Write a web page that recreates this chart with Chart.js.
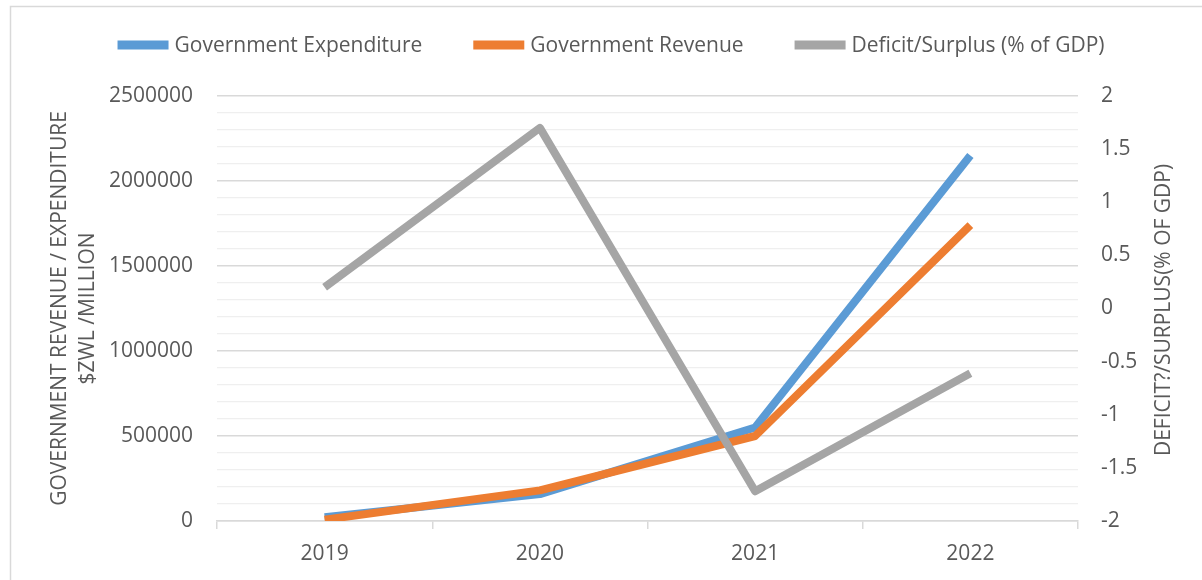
<!DOCTYPE html>
<html>
<head>
<meta charset="utf-8">
<title>Government Revenue, Expenditure and Deficit/Surplus</title>
<script src="https://cdn.jsdelivr.net/npm/chart.js@4/dist/chart.umd.min.js"></script>
<style>
  html, body { margin: 0; padding: 0; background: #ffffff; }
  canvas { display: block; }
</style>
</head>
<body>
<canvas id="chart" width="1202" height="580"></canvas>
<script>
// Fiscal years on the category axis
const years = ['2019', '2020', '2021', '2022'];

// Government expenditure and revenue, $ZWL million
const expenditure = [22000, 158000, 550000, 2150000];
const revenue = [8000, 180000, 500000, 1740000];

// Budget deficit / surplus as a percentage of GDP
const deficitSurplus = [0.2, 1.7, -1.72, -0.61];

// Series names
const seriesNames = ['Government Expenditure', 'Government Revenue', 'Deficit/Surplus (% of GDP)'];

// Axis titles
const leftAxisTitle = ['GOVERNMENT REVENUE / EXPENDITURE', '$ZWL /MILLION'];
const rightAxisTitle = 'DEFICIT?/SURPLUS(% OF GDP)';

const FONT = "'Open Sans', 'Noto Sans', sans-serif";
const TEXT_COLOR = '#595959';
const colors = ['#5B9BD5', '#ED7D31', '#A5A5A5'];

// White background and the thin frame around the chart
const framePlugin = {
  id: 'frame',
  beforeDraw(chart) {
    const ctx = chart.ctx;
    ctx.save();
    ctx.fillStyle = '#ffffff';
    ctx.fillRect(0, 0, chart.width, chart.height);
    ctx.strokeStyle = '#d9d9d9';
    ctx.lineWidth = 1.5;
    ctx.strokeRect(10.5, 6.5, chart.width + 20, chart.height + 20);
    ctx.restore();
  }
};

// Legend row across the top: a short bar in the series colour followed by its name
const legendRowPlugin = {
  id: 'legendRow',
  afterDraw(chart) {
    const ctx = chart.ctx;
    const boxW = 51, boxH = 9, boxGap = 6, itemGap = 51;
    const centerX = 611, centerY = 45;
    ctx.save();
    ctx.font = '21px ' + FONT;
    const items = chart.data.datasets.map(ds => ({
      label: ds.label, color: ds.borderColor, w: ctx.measureText(ds.label).width
    }));
    const total = items.reduce((s, it) => s + boxW + boxGap + it.w, 0) + itemGap * (items.length - 1);
    let x = centerX - total / 2;
    ctx.textBaseline = 'middle';
    ctx.textAlign = 'left';
    items.forEach(it => {
      ctx.fillStyle = it.color;
      ctx.fillRect(x, centerY - boxH / 2, boxW, boxH);
      x += boxW + boxGap;
      ctx.fillStyle = TEXT_COLOR;
      ctx.fillText(it.label, x, centerY + 1);
      x += it.w + itemGap;
    });
    ctx.restore();
  }
};

// Secondary axis title, reading bottom to top beside the right-hand scale
const rightTitlePlugin = {
  id: 'rightTitle',
  afterDraw(chart) {
    const ctx = chart.ctx;
    const area = chart.chartArea;
    ctx.save();
    ctx.translate(1164, (area.top + area.bottom) / 2 + 1.5);
    ctx.rotate(-Math.PI / 2);
    ctx.font = '21px ' + FONT;
    ctx.fillStyle = TEXT_COLOR;
    ctx.textAlign = 'center';
    ctx.textBaseline = 'middle';
    ctx.fillText(rightAxisTitle, 0, 0);
    ctx.restore();
  }
};

const lineStyle = {
  borderWidth: 8,
  pointRadius: 0,
  pointHoverRadius: 0,
  tension: 0,
  borderJoinStyle: 'round',
  borderCapStyle: 'butt',
  fill: false
};

new Chart(document.getElementById('chart'), {
  type: 'line',
  data: {
    labels: years,
    datasets: [
      Object.assign({ label: seriesNames[0], data: expenditure, borderColor: colors[0], backgroundColor: colors[0], yAxisID: 'y', order: 3 }, lineStyle),
      Object.assign({ label: seriesNames[1], data: revenue, borderColor: colors[1], backgroundColor: colors[1], yAxisID: 'y', order: 2 }, lineStyle),
      Object.assign({ label: seriesNames[2], data: deficitSurplus, borderColor: colors[2], backgroundColor: colors[2], yAxisID: 'y1', order: 1 }, lineStyle)
    ]
  },
  options: {
    responsive: false,
    animation: false,
    devicePixelRatio: 1,
    layout: { padding: { top: 96, left: 0, right: 0, bottom: 0 } },
    plugins: {
      legend: { display: false },
      tooltip: { enabled: false }
    },
    scales: {
      x: {
        type: 'category',
        offset: true,
        grid: {
          offset: true,
          drawOnChartArea: false,
          drawTicks: true,
          tickLength: 8,
          color: '#d9d9d9',
          lineWidth: 1.5
        },
        border: { display: true, color: '#d9d9d9', width: 1.5 },
        ticks: {
          color: TEXT_COLOR,
          font: { family: FONT, size: 21 },
          padding: 12,
          maxRotation: 0
        },
        afterFit(scale) { scale.height = 59; }
      },
      y: {
        type: 'linear',
        position: 'left',
        min: 0,
        max: 2500000,
        grid: {
          drawTicks: false,
          tickLength: 0,
          color: c => (c.tick && c.tick.value % 500000 === 0) ? '#d9d9d9' : '#efefef',
          lineWidth: c => (c.tick && c.tick.value % 500000 === 0) ? 1.5 : 1.2
        },
        border: { display: false },
        ticks: {
          stepSize: 100000,
          autoSkip: false,
          color: TEXT_COLOR,
          font: { family: FONT, size: 21 },
          padding: 24,
          callback: v => (v % 500000 === 0) ? String(v) : ''
        },
        title: {
          display: true,
          text: leftAxisTitle,
          color: TEXT_COLOR,
          font: { family: FONT, size: 21, lineHeight: 28 / 21 },
          padding: { top: 46, bottom: 0 }
        },
        afterFit(scale) { scale.width = 217; }
      },
      y1: {
        type: 'linear',
        position: 'right',
        min: -2,
        max: 2,
        grid: { drawOnChartArea: false, drawTicks: false, tickLength: 0 },
        border: { display: false },
        ticks: {
          stepSize: 0.5,
          autoSkip: false,
          color: TEXT_COLOR,
          font: { family: FONT, size: 21 },
          padding: 23,
          callback: v => String(Math.round(v * 10) / 10)
        },
        afterFit(scale) { scale.width = 124; }
      }
    }
  },
  plugins: [framePlugin, legendRowPlugin, rightTitlePlugin]
});
</script>
</body>
</html>
